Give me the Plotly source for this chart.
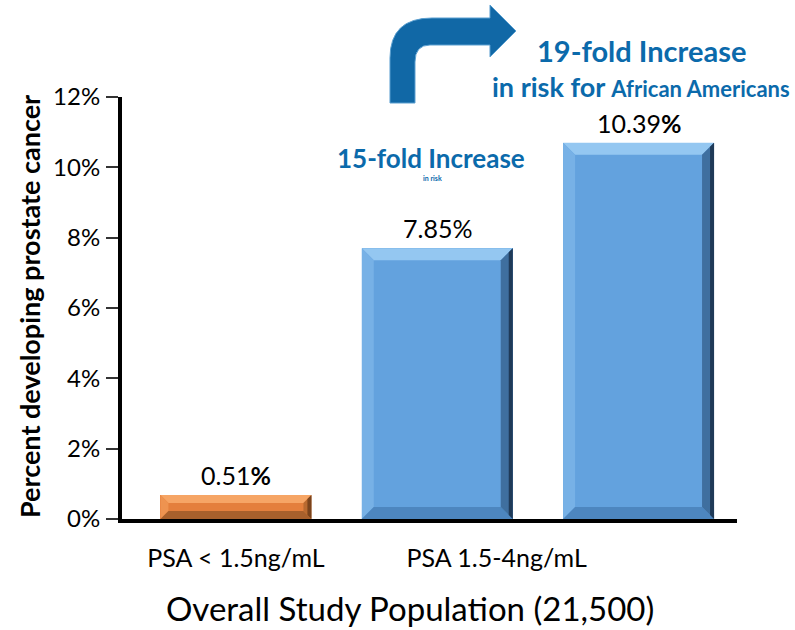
import plotly.graph_objects as go

# ---------------- data ----------------
categories = ["PSA < 1.5ng/mL", "PSA 1.5-4ng/mL", "PSA 1.5-4ng/mL (African Americans)"]
bar_heights = [0.68, 7.7, 10.7]            # percent, as drawn
bar_labels = ["0.51<b>%</b>", "7.85%", "10.39<b>%</b>"]
tick_labels = ["PSA < 1.5ng/mL", "PSA 1.5-4ng/mL"]
y_ticks = [0, 2, 4, 6, 8, 10, 12]

# ---------------- layout constants ----------------
W, H = 795, 630
ML, MR, MT, MB = 122, 58, 97, 111
PW, PH = W - ML - MR, H - MT - MB
XR = [-0.566, 2.489]
YR = [0, 12]
bar_pos = [0, 1, 2]
tick_pos = [0, 1.295]
bar_w = 0.75
FONT = "Lato"
BLUE_TXT = "#0b6aab"

face = ["#e47f3c", "#63a2de", "#63a2de"]
top_c = ["#f6a565", "#94c7f1", "#94c7f1"]
left_c = ["#ee9350", "#77b1e6", "#77b1e6"]
bot_c = ["#a8602c", "#4d86bf", "#4d86bf"]
right_c = ["#b96a30", "#3f6f9f", "#3f6f9f"]
edge_c = ["#7a431c", "#1f3a58", "#1f3a58"]

px_x = PW / (XR[1] - XR[0])
px_y = PH / (YR[1] - YR[0])


def paper_x(p):
    return (p - ML) / PW


def paper_y(p):
    return (H - MB - p) / PH


fig = go.Figure()
fig.add_trace(go.Bar(
    x=bar_pos, y=bar_heights, width=bar_w,
    marker=dict(color=face, line=dict(width=0)),
    hoverinfo="skip", showlegend=False,
))

shapes = []
# bevel effect built from bar geometry
for i, (xc, h) in enumerate(zip(bar_pos, bar_heights)):
    x0, x1 = xc - bar_w / 2, xc + bar_w / 2
    y0, y1 = 0, h
    bpx = min(12, h * px_y / 3)
    bx, by = bpx / px_x, bpx / px_y

    def poly(pts, col):
        d = "M " + " L ".join(f"{a},{b}" for a, b in pts) + " Z"
        shapes.append(dict(type="path", path=d, xref="x", yref="y",
                           fillcolor=col, line=dict(width=0), layer="above"))

    poly([(x0, y1), (x1, y1), (x1 - bx, y1 - by), (x0 + bx, y1 - by)], top_c[i])
    poly([(x0, y0), (x0, y1), (x0 + bx, y1 - by), (x0 + bx, y0 + by)], left_c[i])
    poly([(x0, y0), (x1, y0), (x1 - bx, y0 + by), (x0 + bx, y0 + by)], bot_c[i])
    poly([(x1, y1), (x1, y0), (x1 - bx, y0 + by), (x1 - bx, y1 - by)], right_c[i])
    ex = 4 / px_x
    poly([(x1, y1), (x1, y0), (x1 - ex, y0 + ex * px_x / px_y), (x1 - ex, y1 - ex * px_x / px_y)], edge_c[i])

# bent arrow (pixel geometry converted to paper)
arrow_pts = [
    ("M", 390, 103), ("L", 390, 58), ("Q", 390, 18, 432, 18), ("L", 490, 18),
    ("L", 490, 5), ("L", 516, 31), ("L", 490, 57), ("L", 490, 45),
    ("L", 430, 45), ("Q", 415, 45, 415, 62), ("L", 415, 103),
]
path = ""
for seg in arrow_pts:
    cmd = seg[0]
    vals = seg[1:]
    coords = []
    for k in range(0, len(vals), 2):
        coords.append(f"{paper_x(vals[k]):.5f},{paper_y(vals[k+1]):.5f}")
    path += f"{cmd} {' '.join(coords)} "
path += "Z"
shapes.append(dict(type="path", path=path, xref="paper", yref="paper",
                   fillcolor="#1168a6", line=dict(color="#5a9fd0", width=1)))


def note(px, py, text, size, color="black", angle=0):
    return dict(x=paper_x(px), y=paper_y(py), xref="paper", yref="paper",
                text=text, showarrow=False, xanchor="center", yanchor="middle",
                textangle=angle, font=dict(family=FONT, size=size, color=color))


annotations = []
for xc, h, lab in zip(bar_pos, bar_heights, bar_labels):
    annotations.append(dict(x=xc, y=h, xref="x", yref="y", text=lab, showarrow=False,
                            xanchor="center", yanchor="bottom", yshift=3,
                            font=dict(family=FONT, size=25, color="black")))

annotations += [
    note(29, 307, "<b>Percent developing prostate cancer</b>", 27, angle=-90),
    note(410, 608, "Overall Study Population (21,500)", 33),
    note(641, 50, "<b>19-fold Increase</b>", 29, BLUE_TXT),
    note(641, 86, "<b>in risk for </b><b><span style='font-size:22px'>African Americans</span></b>",
         27, BLUE_TXT),
    note(431, 158, "<b>15-fold Increase</b>", 26, BLUE_TXT),
    note(432, 178, "<b>in risk</b>", 7, BLUE_TXT),
]

fig.update_layout(
    width=W, height=H,
    margin=dict(l=ML, r=MR, t=MT, b=MB, pad=0),
    paper_bgcolor="white", plot_bgcolor="white",
    font=dict(family=FONT, color="black"),
    shapes=shapes, annotations=annotations,
    xaxis=dict(range=XR, tickvals=tick_pos, ticktext=tick_labels,
               showline=True, linecolor="black", linewidth=4,
               ticks="", showgrid=False, zeroline=False,
               tickfont=dict(family=FONT, size=25, color="black"),
               ticklabelstandoff=14, fixedrange=True),
    yaxis=dict(range=YR, tickvals=y_ticks, ticktext=[f"{v}%" for v in y_ticks],
               showline=True, linecolor="black", linewidth=4,
               ticks="outside", ticklen=12, tickwidth=1.5, tickcolor="#333",
               showgrid=False, zeroline=False,
               tickfont=dict(family=FONT, size=24, color="black"),
               ticklabelstandoff=1, fixedrange=True),
    bargap=0,
)

fig.write_html("out.html")
